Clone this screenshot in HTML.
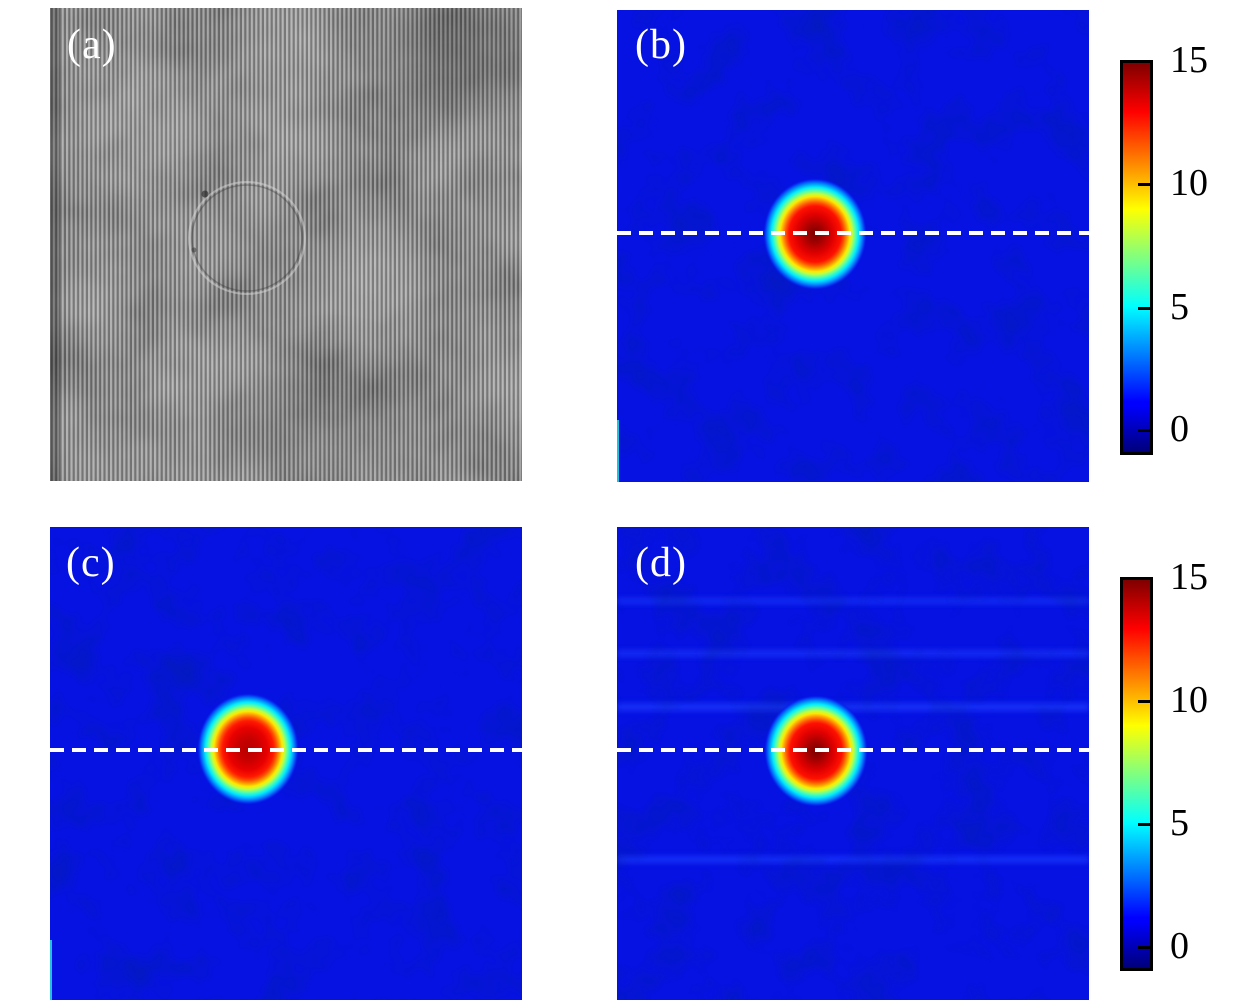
<!DOCTYPE html>
<html><head><meta charset="utf-8">
<style>
html,body{margin:0;padding:0;background:#fff;}
body{width:1260px;height:1008px;position:relative;overflow:hidden;font-family:"Liberation Serif",serif;}
.lab{position:absolute;color:#fff;font-size:42px;line-height:1;letter-spacing:1px;}
.cb{position:absolute;left:1120px;width:33px;box-sizing:border-box;border:3px solid #000;
background:linear-gradient(to top,#00007a 0%,#0000ff 12%,#0000ff 13%,#00ffff 37.5%,#80ff80 50%,#ffff00 62.5%,#ff0000 87.5%,#800000 100%);}
.tk{position:absolute;right:0;width:12px;height:3px;background:#000;}
.tl{position:absolute;left:1170px;font-size:38px;line-height:1;color:#000;}
svg{position:absolute;left:0;top:0;}
</style></head><body>

<svg width="1260" height="1008" viewBox="0 0 1260 1008">
<defs>
<pattern id="fr" patternUnits="userSpaceOnUse" width="4.4" height="10">
<rect width="4.4" height="10" fill="#a9a9a9"/>
<rect x="2.2" width="2.2" height="10" fill="#525252"/>
</pattern>
<filter id="gn" x="0" y="0" width="100%" height="100%">
<feTurbulence type="fractalNoise" baseFrequency="0.012" numOctaves="3" seed="4"/>
<feColorMatrix type="matrix" values="1 0 0 0 0  1 0 0 0 0  1 0 0 0 0  0 0 0 0 0.28"/>
</filter>
<filter id="bn" x="0" y="0" width="100%" height="100%">
<feTurbulence type="fractalNoise" baseFrequency="0.02" numOctaves="3" seed="7"/>
<feColorMatrix type="matrix" values="0 0 0 0 0  0 0 0 0 0.02  0 0 0 0 0.25  1.6 0 0 0 -0.75"/>
</filter>
<radialGradient id="rb" gradientUnits="userSpaceOnUse" cx="0" cy="0" r="1">
<stop offset="0" stop-color="#7a0000"/>
<stop offset="0.15" stop-color="#a00000"/>
<stop offset="0.35" stop-color="#e00000"/>
<stop offset="0.5" stop-color="#ff1000"/>
<stop offset="0.56" stop-color="#ff5000"/>
<stop offset="0.62" stop-color="#ffa000"/>
<stop offset="0.67" stop-color="#ffe800"/>
<stop offset="0.72" stop-color="#c0ff40"/>
<stop offset="0.78" stop-color="#50ffb0"/>
<stop offset="0.84" stop-color="#00e8ff"/>
<stop offset="0.9" stop-color="#0090ff"/>
<stop offset="0.96" stop-color="#0430f0"/>
<stop offset="1" stop-color="#0612e2" stop-opacity="0"/>
</radialGradient>
<radialGradient id="rc" gradientUnits="userSpaceOnUse" cx="0" cy="0" r="1">
<stop offset="0" stop-color="#b80000"/>
<stop offset="0.2" stop-color="#c80000"/>
<stop offset="0.38" stop-color="#e80000"/>
<stop offset="0.5" stop-color="#ff1800"/>
<stop offset="0.56" stop-color="#ff5000"/>
<stop offset="0.62" stop-color="#ffa000"/>
<stop offset="0.67" stop-color="#ffe800"/>
<stop offset="0.72" stop-color="#c0ff40"/>
<stop offset="0.78" stop-color="#50ffb0"/>
<stop offset="0.84" stop-color="#00e8ff"/>
<stop offset="0.9" stop-color="#0090ff"/>
<stop offset="0.96" stop-color="#0430f0"/>
<stop offset="1" stop-color="#0612e2" stop-opacity="0"/>
</radialGradient>
<filter id="bl"><feGaussianBlur stdDeviation="3"/></filter>
<filter id="bl2"><feGaussianBlur stdDeviation="25"/></filter>
<clipPath id="ca"><rect x="50" y="8" width="472" height="473"/></clipPath>
<clipPath id="cd"><rect x="617" y="527" width="472" height="473"/></clipPath>
</defs>

<!-- (a) hologram -->
<g clip-path="url(#ca)">
<rect x="50" y="8" width="472" height="473" fill="url(#fr)"/>
<rect x="50" y="8" width="472" height="473" filter="url(#gn)"/>
<g filter="url(#bl2)">
<rect x="390" y="0" width="140" height="110" fill="#000" opacity="0.18"/>
<ellipse cx="160" cy="120" rx="90" ry="60" fill="#fff" opacity="0.08"/>
<ellipse cx="330" cy="420" rx="80" ry="60" fill="#000" opacity="0.1"/>
</g>
<rect x="50" y="8" width="10" height="473" fill="#000" opacity="0.25"/>
<ellipse cx="247" cy="238" rx="58" ry="56" fill="none" stroke="#dddddd" stroke-width="2" opacity="0.45"/>
<ellipse cx="247" cy="238" rx="55" ry="53" fill="none" stroke="#333" stroke-width="1.5" opacity="0.35"/>
<circle cx="205" cy="194" r="3.5" fill="#222" opacity="0.6"/>
<circle cx="194" cy="250" r="2.5" fill="#333" opacity="0.5"/>
</g>

<!-- (b) -->
<rect x="617" y="10" width="472" height="472" fill="#0612e2"/>
<rect x="617" y="10" width="472" height="472" filter="url(#bn)" opacity="0.5"/>
<rect x="617" y="420" width="2" height="62" fill="#20c0e0"/>
<ellipse cx="0" cy="0" rx="1" ry="1" fill="url(#rb)" transform="translate(815 234) scale(52 56)"/>

<!-- (c) -->
<rect x="50" y="527" width="472" height="473" fill="#0612e2"/>
<rect x="50" y="527" width="472" height="473" filter="url(#bn)" opacity="0.5"/>
<rect x="50" y="940" width="2" height="60" fill="#20c0e0"/>
<ellipse cx="0" cy="0" rx="1" ry="1" fill="url(#rc)" transform="translate(248 749) scale(51 56)"/>

<!-- (d) -->
<rect x="617" y="527" width="472" height="473" fill="#0612e2"/>
<g clip-path="url(#cd)" filter="url(#bl)">
<rect x="617" y="598" width="472" height="6" fill="#1a3cff" opacity="0.6"/>
<rect x="617" y="650" width="472" height="7" fill="#1a3cff" opacity="0.6"/>
<rect x="617" y="703" width="472" height="8" fill="#1a3cff" opacity="0.7"/>
<rect x="617" y="856" width="472" height="7" fill="#1a3cff" opacity="0.7"/>
</g>
<rect x="617" y="527" width="472" height="473" filter="url(#bn)" opacity="0.5"/>
<ellipse cx="0" cy="0" rx="1" ry="1" fill="url(#rb)" transform="translate(816 751) scale(52 56)"/>

<!-- dashed lines -->
<line x1="617" y1="233" x2="1089" y2="233" stroke="#fff" stroke-width="4" stroke-dasharray="14 8"/>
<line x1="50" y1="750" x2="522" y2="750" stroke="#fff" stroke-width="4" stroke-dasharray="14 8"/>
<line x1="617" y1="750" x2="1089" y2="750" stroke="#fff" stroke-width="4" stroke-dasharray="14 8"/>
</svg>

<div class="lab" style="left:67px;top:24px;">(a)</div>
<div class="lab" style="left:635px;top:24px;">(b)</div>
<div class="lab" style="left:66px;top:542px;">(c)</div>
<div class="lab" style="left:635px;top:542px;">(d)</div>

<!-- colorbar 1 -->
<div class="cb" style="top:60px;height:395px;">
<div class="tk" style="top:120px;"></div>
<div class="tk" style="top:244px;"></div>
<div class="tk" style="top:366px;"></div>
</div>
<div class="tl" style="top:41px;">15</div>
<div class="tl" style="top:164px;">10</div>
<div class="tl" style="top:288px;">5</div>
<div class="tl" style="top:410px;">0</div>

<!-- colorbar 2 -->
<div class="cb" style="top:577px;height:394px;">
<div class="tk" style="top:120px;"></div>
<div class="tk" style="top:243px;"></div>
<div class="tk" style="top:366px;"></div>
</div>
<div class="tl" style="top:558px;">15</div>
<div class="tl" style="top:681px;">10</div>
<div class="tl" style="top:804px;">5</div>
<div class="tl" style="top:927px;">0</div>

</body></html>
